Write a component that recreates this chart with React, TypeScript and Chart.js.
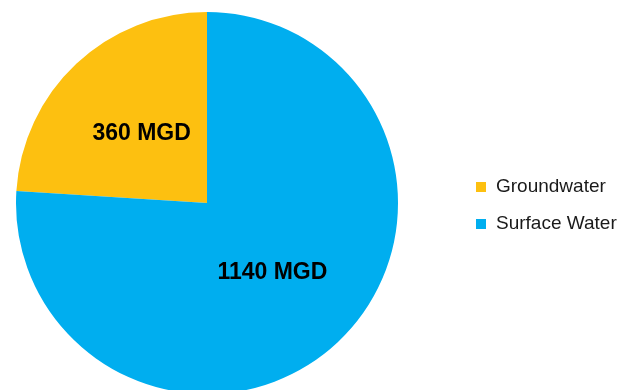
import React, { useEffect, useRef } from "react";
import { Chart, registerables } from "chart.js";

Chart.register(...registerables);

// Water supply by source, million gallons per day
const sources = ["Groundwater", "Surface Water"];
const volumes = [360, 1140];
const sliceLabels = ["360 MGD", "1140 MGD"];
const colors = ["#FDC010", "#00AEEF"];

const FONT = "'Liberation Sans', Arial, Helvetica, sans-serif";

// Bold value labels at the middle of each slice
const sliceLabelPlugin = {
  id: "sliceLabels",
  afterDatasetsDraw(chart: Chart) {
    const { ctx } = chart;
    const meta = chart.getDatasetMeta(0);
    ctx.save();
    ctx.font = `bold 23px ${FONT}`;
    ctx.fillStyle = "#000000";
    ctx.textAlign = "center";
    ctx.textBaseline = "middle";
    meta.data.forEach((arc: any, i: number) => {
      const p = arc.tooltipPosition();
      ctx.fillText(sliceLabels[i], p.x, p.y);
    });
    ctx.restore();
  },
};

// Legend on the right: small squares followed by the source names
const sideLegendPlugin = {
  id: "sideLegend",
  afterDraw(chart: Chart) {
    const { ctx, chartArea } = chart;
    const x = chartArea.right + 78;
    const rowGap = 37;
    const y0 = (chartArea.top + chartArea.bottom) / 2 - 16;
    ctx.save();
    ctx.font = `19px ${FONT}`;
    ctx.textAlign = "left";
    ctx.textBaseline = "middle";
    sources.forEach((name, i) => {
      const y = y0 + i * rowGap;
      ctx.fillStyle = colors[i];
      ctx.fillRect(x, y - 5, 10, 10);
      ctx.fillStyle = "#1a1a1a";
      ctx.fillText(name, x + 20, y);
    });
    ctx.restore();
  },
};

export default function App() {
  const canvasRef = useRef<HTMLCanvasElement | null>(null);

  useEffect(() => {
    if (!canvasRef.current) return;
    const total = volumes.reduce((a, b) => a + b, 0);
    const chart = new Chart(canvasRef.current, {
      type: "pie",
      data: {
        labels: sources,
        datasets: [
          {
            data: volumes,
            backgroundColor: colors,
            borderWidth: 0,
          },
        ],
      },
      options: {
        responsive: false,
        animation: false,
        devicePixelRatio: 1,
        // first slice ends at twelve o'clock
        rotation: (-360 * volumes[0]) / total,
        layout: { padding: { left: 16, top: 12, right: 233, bottom: 12 } },
        plugins: {
          legend: { display: false },
          tooltip: { enabled: false },
        },
      },
      plugins: [sliceLabelPlugin, sideLegendPlugin],
    });
    return () => chart.destroy();
  }, []);

  return (
    <div
      style={{
        position: "fixed",
        left: 0,
        top: 0,
        width: 631,
        height: 390,
        overflow: "hidden",
        background: "#ffffff",
      }}
    >
      <canvas ref={canvasRef} width={631} height={406} />
    </div>
  );
}
